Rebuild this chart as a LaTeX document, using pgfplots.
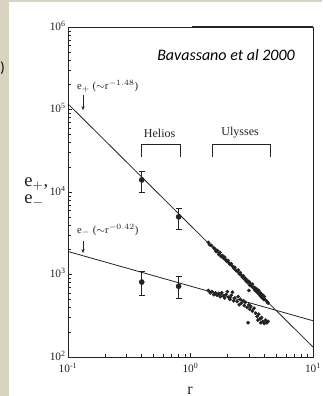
\documentclass[border=0pt]{standalone}
\usepackage{fontspec}
\setmainfont{Liberation Serif}
\newfontfamily\calibri{Carlito}
\usepackage{pgfplots}
\pgfplotsset{compat=1.18}
\usetikzlibrary{arrows.meta}
\definecolor{beige}{RGB}{216,212,192}
\definecolor{ink}{RGB}{35,35,35}

\begin{document}
\begin{tikzpicture}
\clip (0pt,0pt) rectangle (241.5pt,297pt);
\fill[beige] (0pt,0pt) rectangle (241.5pt,297pt);
\fill[white] (6.75pt,0pt) rectangle (241.5pt,295.5pt);
\node[font=\calibri\fontsize{11}{12}\selectfont] at (2pt,246pt) {)};
\node[font=\fontsize{14}{14}\selectfont, inner sep=0pt, text=ink, anchor=west] at (18pt,159pt) {e$_+$,};
\node[font=\fontsize{14}{14}\selectfont, inner sep=0pt, text=ink, anchor=west] at (18pt,146pt) {e$_-$};
\node[font=\fontsize{12}{12}\selectfont, inner sep=0pt, anchor=north, text=ink] at (142.5pt,7pt) {r};
\begin{axis}[
 at={(51pt,29.25pt)}, anchor=south west,
 scale only axis, width=183.75pt, height=247.5pt,
 xmode=log, ymode=log,
 xmin=0.1, xmax=10, ymin=100, ymax=1000000,
 xtick={0.1,1,10}, ytick={100,1000,10000,100000,1000000},
 xticklabels={10\textsuperscript{-1},10\textsuperscript{0},10\textsuperscript{1}},
 yticklabels={10\textsuperscript{2},10\textsuperscript{3},10\textsuperscript{4},10\textsuperscript{5},10\textsuperscript{6}},
 tick pos=left, tick align=inside,
 axis line style={line width=0.6pt, ink},
 tick style={ink, line width=0.4pt},
 major tick length=3pt, minor tick length=2pt,
 tick label style={font=\fontsize{8.5}{9}\selectfont, text=ink},
 yticklabel style={inner sep=1.5pt, yshift=1pt},
 xticklabel style={yshift=-1.5pt},
 clip=false,
]
% power-law fits
\addplot[ink, line width=0.6pt] coordinates {(0.1,117000) (10,132)};
\addplot[ink, line width=0.6pt] coordinates {(0.1,1900) (10,275)};
% Ulysses e+
\addplot[only marks, mark=*, mark size=1.2pt, ink] coordinates {
(1.40,2450) (1.43,2300) (1.48,2250) (1.55,2100) (1.60,2000) (1.62,1900) (1.66,1950)
(1.70,1750) (1.74,1850) (1.78,1650) (1.82,1700) (1.86,1580) (1.90,1620) (1.94,1500)
(1.98,1450) (2.02,1480) (2.06,1380) (2.10,1330) (2.15,1350) (2.20,1260) (2.25,1200)
(2.30,1220) (2.35,1120) (2.40,1100) (2.45,1130) (2.50,1020) (2.55,1050) (2.60,980)
(2.65,930) (2.70,960) (2.75,880) (2.80,900) (2.85,830) (2.90,850) (2.95,790)
(3.00,820) (3.05,740) (3.10,770) (3.15,720) (3.20,760) (3.25,690) (3.30,700)
(3.35,650) (3.40,680) (3.45,620) (3.50,660) (3.55,600) (3.60,640) (3.65,570)
(3.70,600) (3.75,540) (3.80,580) (3.85,520) (3.90,560) (3.95,500) (4.00,540)
(4.10,490) (4.20,470) (4.30,450) (3.00,640)
};
% Ulysses e-
\addplot[only marks, mark=*, mark size=1.2pt, ink] coordinates {
(1.40,640) (1.45,600) (1.50,620) (1.55,570) (1.60,600) (1.65,560) (1.70,590)
(1.75,540) (1.80,600) (1.85,550) (1.90,520) (1.95,570) (2.00,620) (2.05,530)
(2.10,500) (2.15,560) (2.20,610) (2.25,480) (2.30,520) (2.40,470) (2.45,540)
(2.50,430) (2.55,500) (2.60,450) (2.70,480) (2.75,420) (2.80,460) (2.90,400)
(2.95,260) (3.00,430) (3.05,380) (3.10,410) (3.20,360) (3.30,390) (3.40,340)
(3.50,310) (3.55,280) (3.60,330) (3.70,290) (3.75,260) (3.80,300) (3.90,270)
(4.00,255) (4.10,280) (4.20,260) (4.30,270)
};
% Helios with error bars
\addplot[only marks, mark=*, mark size=1.9pt, ink,
 error bars/.cd, y dir=both, y explicit,
 error bar style={line width=0.5pt, ink},
 error mark options={rotate=90, mark size=2.2pt, line width=0.5pt, ink}]
 coordinates {
 (0.4,14000) += (0,4000) -= (0,4000)
 (0.8,5000) += (0,1300) -= (0,1500)
 (0.4,810) += (0,290) -= (0,250)
 (0.8,720) += (0,220) -= (0,210)
};
% brackets
\draw[ink, line width=0.5pt] (axis cs:0.40,26500) |- (axis cs:0.82,38000) -- (axis cs:0.82,26500);
\draw[ink, line width=0.5pt] (axis cs:1.50,26500) |- (axis cs:4.45,38000) -- (axis cs:4.45,26500);
\node[font=\fontsize{9}{10}\selectfont, text=ink] at (axis cs:0.56,52000) {Helios};
\node[font=\fontsize{9}{10}\selectfont, text=ink] at (axis cs:2.54,52000) {Ulysses};
% fit labels
\node[font=\fontsize{8}{9}\selectfont, text=ink, anchor=west, inner sep=0pt] at (axis cs:0.118,190000) {e$_+$ ($\sim$r$^{-1.48}$)};
\draw[ink, line width=0.5pt, -{Stealth[length=3pt,width=2.5pt]}] (axis cs:0.1326,150000) -- (axis cs:0.1326,98000);
\node[font=\fontsize{8}{9}\selectfont, text=ink, anchor=west, inner sep=0pt] at (axis cs:0.118,3470) {e$_-$ ($\sim$r$^{-0.42}$)};
\draw[ink, line width=0.5pt, -{Stealth[length=3pt,width=2.5pt]}] (axis cs:0.1326,2550) -- (axis cs:0.1326,1820);
% citation
\node[font=\calibri\itshape\fontsize{12}{13}\selectfont] at (axis cs:1.95,457000) {Bavassano et al 2000};
% thick top edge artefact
\draw[ink, line width=1.2pt] (rel axis cs:0.506,1) -- (rel axis cs:1,1);
\end{axis}
\end{tikzpicture}
\end{document}
